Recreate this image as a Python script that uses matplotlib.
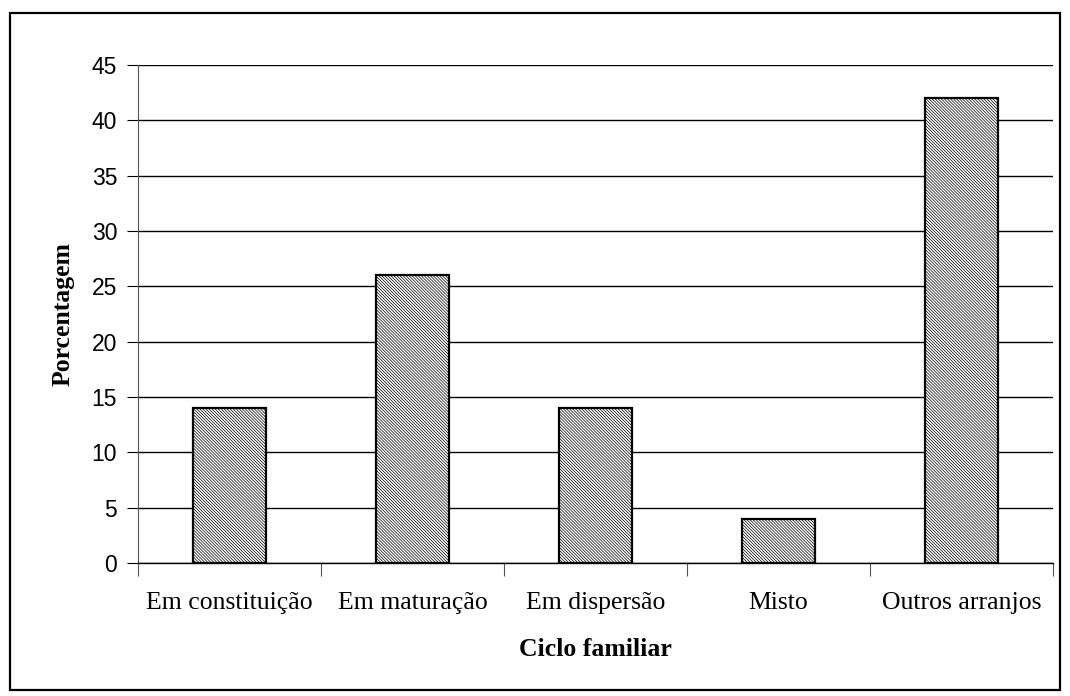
import matplotlib
matplotlib.use("Agg")
import matplotlib.pyplot as plt
from matplotlib.patches import Rectangle

categories = ["Em constituição", "Em maturação", "Em dispersão", "Misto", "Outros arranjos"]
values = [14, 26, 14, 4, 42]
yticks = [0, 5, 10, 15, 20, 25, 30, 35, 40, 45]

plt.rcParams["hatch.linewidth"] = 0.5
fig = plt.figure(figsize=(10.7, 6.96), dpi=100)
# outer chart frame
fig.patches.append(Rectangle((10/1070, 1 - 690/696), 1050/1070, 677/696, transform=fig.transFigure,
                             fill=False, edgecolor="black", linewidth=1.6))
ax = fig.add_axes([138/1070, 1 - 563/696, (1053 - 138)/1070, (563 - 65)/696])

x = range(len(categories))
ax.bar(x, values, width=0.4, color="white", edgecolor="black", linewidth=1.6,
       hatch="\\" * 11, zorder=3)

ax.set_xlim(-0.5, len(categories) - 0.5)
ax.set_ylim(0, 45)
ax.set_yticks(yticks)
ax.yaxis.grid(True, color="black", linewidth=1.0)
ax.set_axisbelow(True)
for s in ("top", "right"):
    ax.spines[s].set_visible(False)
ax.spines["left"].set_color("#555555")
ax.spines["bottom"].set_linewidth(1.0)

# category ticks sit between the bars
ax.set_xticks([i - 0.5 for i in range(len(categories) + 1)], minor=False)
ax.set_xticklabels([])
ax.set_xticks(list(x), minor=True)
ax.set_xticklabels(categories, minor=True, fontfamily="Liberation Serif", fontsize=18.5)
ax.tick_params(axis="x", which="minor", length=0, pad=21)
ax.tick_params(axis="x", which="major", length=9, color="#555555", direction="out")
ax.tick_params(axis="y", length=8, labelsize=16.5, pad=7)
for t in ax.get_yticklabels():
    t.set_fontfamily("Liberation Sans")

ax.set_xlabel("Ciclo familiar", fontfamily="Liberation Serif", fontweight="bold", fontsize=18.5, labelpad=17)
ax.set_ylabel("Porcentagem", fontfamily="Liberation Serif", fontweight="bold", fontsize=18.5, labelpad=12)

fig.savefig("out.png", dpi=100)
